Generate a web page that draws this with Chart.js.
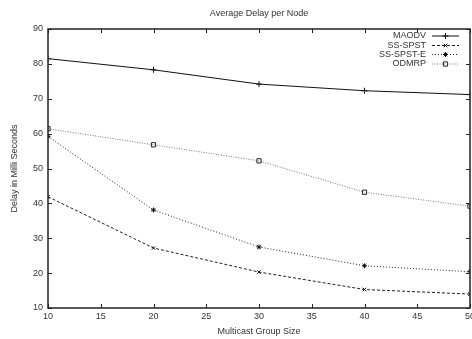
<!DOCTYPE html>
<html>
<head>
<meta charset="utf-8">
<script src="https://cdn.jsdelivr.net/npm/chart.js@4"></script>
<style>
  html, body { margin: 0; padding: 0; background: #fff; overflow: hidden; }
  #wrap { width: 472px; height: 339px; }
</style>
</head>
<body>
<div id="wrap"><canvas id="delayChart" width="472" height="339"></canvas></div>
<script>
// data
const groupSizes = [10, 20, 30, 40, 50];
const maodv    = [81.5, 78.3, 74.2, 72.3, 71.2];
const ssSpst   = [41.9, 27.2, 20.3, 15.3, 14.0];
const ssSpstE  = [59.2, 38.1, 27.5, 22.1, 20.4];
const odmrp    = [61.4, 56.8, 52.2, 43.2, 39.2];
const xTicks   = [10, 15, 20, 25, 30, 35, 40, 45, 50];
const yTicks   = [10, 20, 30, 40, 50, 60, 70, 80, 90];

const FONT = { family: "'Liberation Sans', Arial, sans-serif", size: 9 };
const TXT = "#333";

function pts(vals) {
    return groupSizes.map((g, i) => ({ x: g, y: vals[i] }));
}

// gnuplot-like frame with inward ticks on all sides + legend inside the box
const framePlugin = {
    id: "frame",
    afterDatasetsDraw(chart) {
        const ctx = chart.ctx;
        const a = chart.chartArea;
        const xs = chart.scales.x, ys = chart.scales.y;
        ctx.save();
        ctx.strokeStyle = "#222";
        ctx.lineWidth = 1.5;
        ctx.strokeRect(a.left, a.top, a.right - a.left, a.bottom - a.top);
        ctx.lineWidth = 1;
        ctx.beginPath();
        xTicks.forEach(v => {
            const px = Math.round(xs.getPixelForValue(v)) + 0.5;
            ctx.moveTo(px, a.bottom); ctx.lineTo(px, a.bottom - 4);
            ctx.moveTo(px, a.top); ctx.lineTo(px, a.top + 4);
        });
        yTicks.forEach(v => {
            const py = Math.round(ys.getPixelForValue(v)) + 0.5;
            ctx.moveTo(a.left, py); ctx.lineTo(a.left + 4, py);
            ctx.moveTo(a.right, py); ctx.lineTo(a.right - 4, py);
        });
        ctx.stroke();

        // legend
        const rows = [36, 45.5, 54.5, 64];
        ctx.font = "9px " + FONT.family;
        ctx.textAlign = "right";
        ctx.textBaseline = "middle";
        chart.data.datasets.forEach((ds, i) => {
            const y = rows[i];
            ctx.fillStyle = TXT;
            ctx.fillText(ds.label, 426, y);
            ctx.save();
            ctx.strokeStyle = ds.borderColor;
            ctx.lineWidth = ds.borderWidth;
            ctx.setLineDash(ds.borderDash || []);
            ctx.beginPath();
            ctx.moveTo(432, y); ctx.lineTo(459, y);
            ctx.stroke();
            ctx.restore();
            ctx.save();
            ctx.strokeStyle = ds.pointBorderColor;
            ctx.fillStyle = ds.pointBackgroundColor;
            ctx.lineWidth = 1;
            Chart.helpers.drawPoint(ctx, { pointStyle: ds.pointStyle, radius: ds.pointRadius, rotation: 0, borderWidth: 1 }, 445.5, y);
            ctx.restore();
        });
        ctx.restore();
    }
};

document.addEventListener("DOMContentLoaded", function () {
    const ctx = document.getElementById("delayChart").getContext("2d");
    new Chart(ctx, {
        type: "line",
        data: {
            datasets: [{
                label: "MAODV",
                data: pts(maodv),
                borderColor: "#111",
                borderWidth: 1,
                pointStyle: "cross",
                pointRadius: 3,
                pointBorderColor: "#111",
                pointBackgroundColor: "#111",
                pointBorderWidth: 1
            }, {
                label: "SS-SPST",
                data: pts(ssSpst),
                borderColor: "#222",
                borderWidth: 1,
                borderDash: [3, 2],
                pointStyle: "crossRot",
                pointRadius: 2.5,
                pointBorderColor: "#111",
                pointBackgroundColor: "#111",
                pointBorderWidth: 1
            }, {
                label: "SS-SPST-E",
                data: pts(ssSpstE),
                borderColor: "#222",
                borderWidth: 1,
                borderDash: [1, 2],
                pointStyle: "star",
                pointRadius: 2.5,
                pointBorderColor: "#111",
                pointBackgroundColor: "#111",
                pointBorderWidth: 1
            }, {
                label: "ODMRP",
                data: pts(odmrp),
                borderColor: "#777",
                borderWidth: 1,
                borderDash: [1, 1.5],
                pointStyle: "rect",
                pointRadius: 3,
                pointBorderColor: "#222",
                pointBackgroundColor: "rgba(255,255,255,0)",
                pointBorderWidth: 1
            }]
        },
        options: {
            responsive: false,
            animation: false,
            tension: 0,
            layout: { autoPadding: false, padding: { left: 0, right: 2, top: 0, bottom: 0 } },
            plugins: {
                legend: { display: false },
                tooltip: { enabled: false },
                title: {
                    display: true,
                    fullSize: false,
                    text: "Average Delay per Node",
                    color: TXT,
                    font: { family: FONT.family, size: 9, weight: "normal" },
                    padding: { top: 8.6, bottom: 9.6 }
                }
            },
            scales: {
                x: {
                    type: "linear",
                    min: 10,
                    max: 50,
                    afterFit(scale) {
                        scale.height = 31;
                        scale.paddingLeft = 0;
                        scale.paddingRight = 0;
                    },
                    afterBuildTicks(scale) { scale.ticks = xTicks.map(v => ({ value: v })); },
                    grid: { display: false, drawTicks: false },
                    border: { display: false },
                    ticks: { color: TXT, font: FONT, padding: 3, maxRotation: 0 },
                    title: { display: true, text: "Multicast Group Size", color: TXT, font: FONT, padding: { top: 0, bottom: 1.6 } }
                },
                y: {
                    min: 10,
                    max: 90,
                    afterFit(scale) { scale.width = 48; },
                    afterBuildTicks(scale) { scale.ticks = yTicks.map(v => ({ value: v })); },
                    grid: { display: false, drawTicks: false },
                    border: { display: false },
                    ticks: { color: TXT, font: FONT, padding: 5 },
                    title: { display: true, text: "Delay in Milli Seconds", color: TXT, font: FONT, padding: { top: 9.6, bottom: 0 } }
                }
            }
        },
        plugins: [framePlugin]
    });
});
</script>
</body>
</html>
